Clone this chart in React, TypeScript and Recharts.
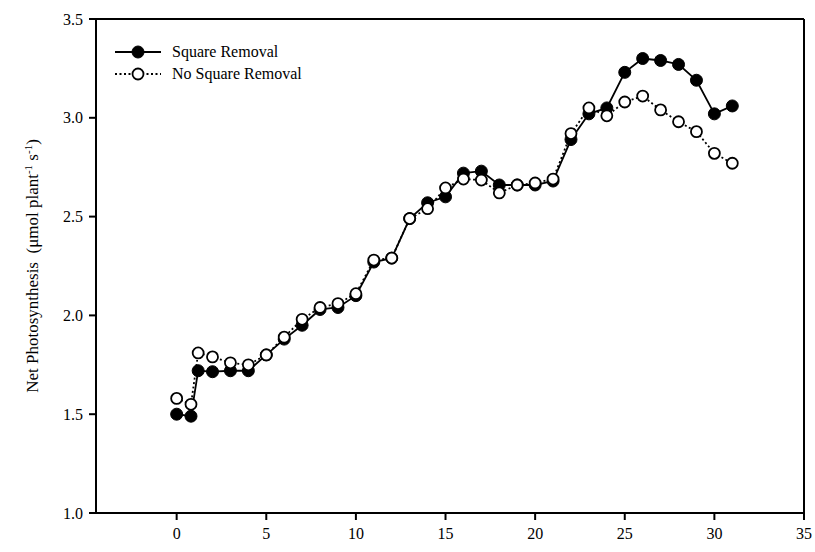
import React from "react";
import { LineChart, Line, XAxis, YAxis, ReferenceLine } from "recharts";

const days = [0, 0.8, 1.2, 2, 3, 4, 5, 6, 7, 8, 9, 10, 11, 12, 13, 14, 15, 16, 17, 18, 19, 20, 21, 22, 23, 24, 25, 26, 27, 28, 29, 30, 31];
const squareRemoval = [1.5, 1.49, 1.72, 1.715, 1.72, 1.72, 1.8, 1.88, 1.95, 2.03, 2.04, 2.1, 2.27, 2.29, 2.49, 2.57, 2.6, 2.72, 2.73, 2.66, 2.66, 2.66, 2.68, 2.89, 3.02, 3.05, 3.23, 3.3, 3.29, 3.27, 3.19, 3.02, 3.06];
const noSquareRemoval = [1.58, 1.55, 1.81, 1.79, 1.76, 1.75, 1.8, 1.89, 1.98, 2.04, 2.06, 2.11, 2.28, 2.29, 2.49, 2.54, 2.645, 2.69, 2.685, 2.62, 2.66, 2.67, 2.69, 2.92, 3.05, 3.01, 3.08, 3.11, 3.04, 2.98, 2.93, 2.82, 2.77];
const xTicks = [0, 5, 10, 15, 20, 25, 30, 35];
const yTicks = [1.0, 1.5, 2.0, 2.5, 3.0, 3.5];
const seriesNames = ["Square Removal", "No Square Removal"];

const data = days.map((d, i) => ({ day: d, sr: squareRemoval[i], nsr: noSquareRemoval[i] }));

const FONT = "Liberation Serif, DejaVu Serif, serif";

const LegendBox = () => (
  <div style={{ position: "absolute", left: 113, top: 41, fontFamily: FONT, fontSize: 16, color: "#000", lineHeight: "22px" }}>
    <div style={{ display: "flex", alignItems: "center" }}>
      <svg width={50} height={16}>
        <line x1={2} y1={8} x2={48} y2={8} stroke="#000" strokeWidth={1.8} />
        <circle cx={25} cy={8} r={6} fill="#000" stroke="#000" />
      </svg>
      <span style={{ marginLeft: 9 }}>{seriesNames[0]}</span>
    </div>
    <div style={{ display: "flex", alignItems: "center" }}>
      <svg width={50} height={16}>
        <line x1={2} y1={8} x2={48} y2={8} stroke="#000" strokeWidth={1.8} strokeDasharray="2 2.5" />
        <circle cx={25} cy={8} r={5.5} fill="#fff" stroke="#000" strokeWidth={1.8} />
      </svg>
      <span style={{ marginLeft: 9 }}>{seriesNames[1]}</span>
    </div>
  </div>
);

const YLabel = (props: any) => {
  const { viewBox } = props;
  const cx = 38;
  const cy = viewBox.y + viewBox.height / 2;
  return (
    <text x={cx} y={cy} transform={`rotate(-90, ${cx}, ${cy})`} textAnchor="middle" fontFamily={FONT} fontSize={17} fill="#000" style={{ whiteSpace: "pre" }}>
      {"Net Photosynthesis  (μmol plant"}
      <tspan dy={-6} fontSize={11}>-1</tspan>
      <tspan dy={6}>{" s"}</tspan>
      <tspan dy={-6} fontSize={11}>-1</tspan>
      <tspan dy={6}>)</tspan>
    </text>
  );
};

export default function App() {
  return (
    <div style={{ position: "absolute", left: 0, top: 0, width: 815, height: 552, background: "#fff" }}>
      <LineChart width={815} height={552} data={data} margin={{ top: 19, right: 11, left: 36, bottom: 0 }}>
        <XAxis
          dataKey="day"
          type="number"
          domain={[-4.5, 35]}
          ticks={xTicks}
          allowDataOverflow
          height={39}
          stroke="#000"
          strokeWidth={2}
          tickSize={7}
          tick={{ fill: "#000", fontFamily: FONT, fontSize: 16, dy: 6 }}
        />
        <YAxis
          type="number"
          domain={[1, 3.5]}
          ticks={yTicks}
          width={60}
          stroke="#000"
          strokeWidth={2}
          tickSize={7}
          tickFormatter={(v: number) => v.toFixed(1)}
          tick={{ fill: "#000", fontFamily: FONT, fontSize: 16, dx: -4 }}
          label={<YLabel />}
        />
        <ReferenceLine y={3.5} stroke="#000" strokeWidth={2} />
        <ReferenceLine x={35} stroke="#000" strokeWidth={2} />
        <Line
          dataKey="sr"
          name={seriesNames[0]}
          stroke="#000"
          strokeWidth={1.8}
          dot={{ r: 6, fill: "#000", stroke: "#000", strokeWidth: 1 }}
          isAnimationActive={false}
        />
        <Line
          dataKey="nsr"
          name={seriesNames[1]}
          stroke="#000"
          strokeWidth={1.8}
          strokeDasharray="2 2.5"
          dot={{ r: 5.5, fill: "#fff", stroke: "#000", strokeWidth: 1.8, strokeDasharray: "0" }}
          isAnimationActive={false}
        />
      </LineChart>
      <LegendBox />
    </div>
  );
}
